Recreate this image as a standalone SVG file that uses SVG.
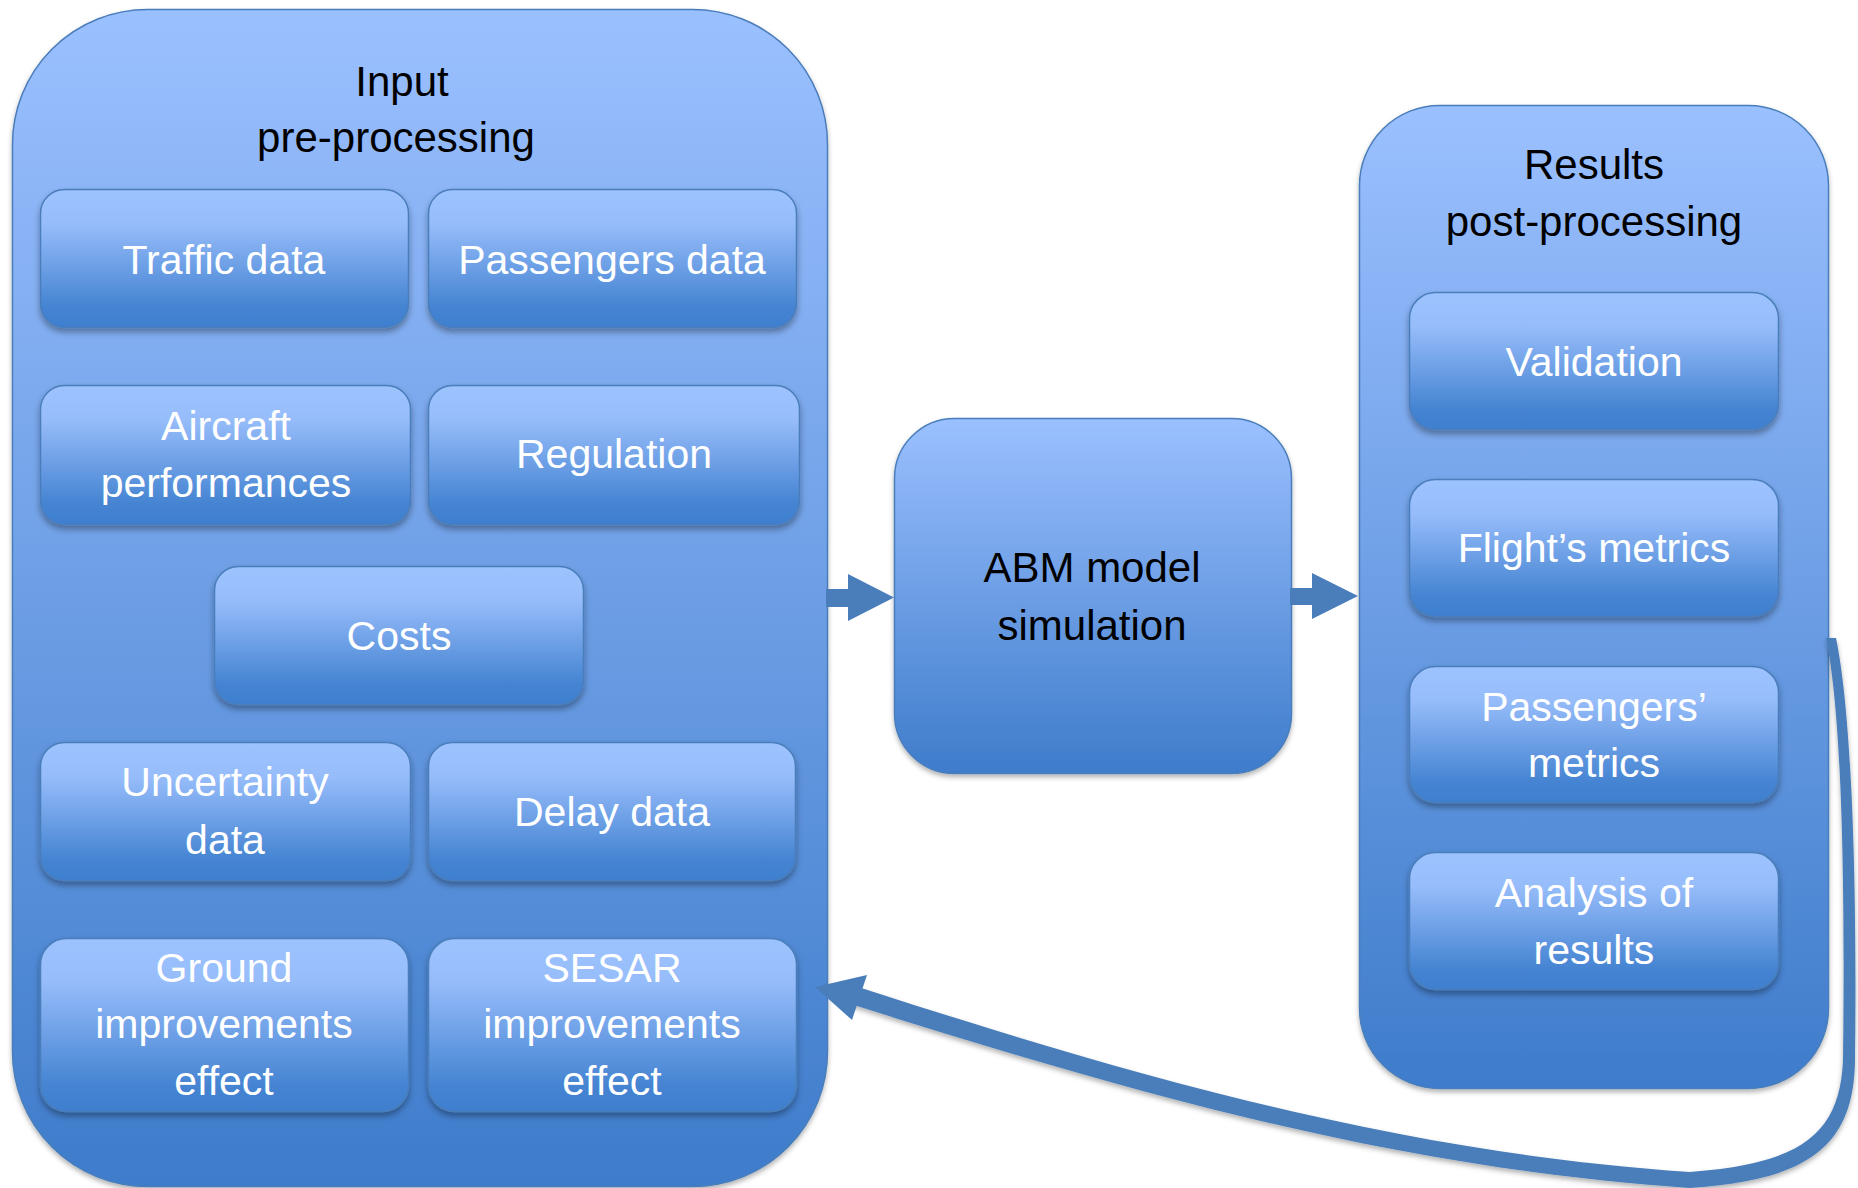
<svg xmlns="http://www.w3.org/2000/svg" width="1858" height="1188" viewBox="0 0 1858 1188">
<defs>
<linearGradient id="gBig" x1="0" y1="0" x2="0" y2="1">
<stop offset="0" stop-color="#9bc0ff"/>
<stop offset="1" stop-color="#3e7ccb"/>
</linearGradient>
<linearGradient id="gIn" x1="0" y1="0" x2="0" y2="1">
<stop offset="0" stop-color="#9dc3ff"/>
<stop offset="0.25" stop-color="#96bcfa"/>
<stop offset="0.85" stop-color="#4584d2"/>
<stop offset="1" stop-color="#3f7fcf"/>
</linearGradient>
<filter id="sh" x="-10%" y="-10%" width="120%" height="130%">
<feDropShadow dx="0" dy="4" stdDeviation="3" flood-color="#000" flood-opacity="0.35"/>
</filter>
<filter id="shA" x="-5%" y="-5%" width="110%" height="115%">
<feDropShadow dx="0" dy="3" stdDeviation="2.5" flood-color="#000" flood-opacity="0.3"/>
</filter>
</defs>
<style>
.big{fill:url(#gBig);stroke:#4a7ebb;stroke-width:1.5}
.in{fill:url(#gIn);stroke:#4a7ebb;stroke-width:1.5}
.title{font-family:"Liberation Sans",Arial,sans-serif;font-size:42px;fill:#000;text-anchor:middle}
.lbl{font-family:"Liberation Sans",Arial,sans-serif;font-size:41px;fill:#fff;text-anchor:middle}
.arr{fill:#4a7ebb}
</style>
<rect width="1858" height="1188" fill="#fff"/>

<g id="input-preprocessing">
<rect class="big" x="12.5" y="9.5" width="815" height="1177" rx="135" ry="135" filter="url(#shA)"/>
<text class="title" x="402" y="96">Input</text>
<text class="title" x="396" y="152">pre-processing</text>
</g>
<g id="traffic-data">
<rect class="in" x="40.5" y="189.5" width="368" height="138" rx="24" filter="url(#sh)"/>
<text class="lbl" x="224" y="274">Traffic data</text>
</g>
<g id="passengers-data">
<rect class="in" x="428.5" y="189.5" width="368" height="138" rx="24" filter="url(#sh)"/>
<text class="lbl" x="612" y="274">Passengers data</text>
</g>
<g id="aircraft-performances">
<rect class="in" x="40.5" y="385.5" width="370" height="139" rx="24" filter="url(#sh)"/>
<text class="lbl" x="226" y="440">Aircraft</text>
<text class="lbl" x="226" y="497">performances</text>
</g>
<g id="regulation">
<rect class="in" x="428.5" y="385.5" width="371" height="139" rx="24" filter="url(#sh)"/>
<text class="lbl" x="614" y="468">Regulation</text>
</g>
<g id="costs">
<rect class="in" x="214.5" y="566.5" width="369" height="138" rx="24" filter="url(#sh)"/>
<text class="lbl" x="399" y="650">Costs</text>
</g>
<g id="uncertainty-data">
<rect class="in" x="40.5" y="742.5" width="370" height="138" rx="24" filter="url(#sh)"/>
<text class="lbl" x="225" y="796">Uncertainty</text>
<text class="lbl" x="225" y="854">data</text>
</g>
<g id="delay-data">
<rect class="in" x="428.5" y="742.5" width="367" height="138" rx="24" filter="url(#sh)"/>
<text class="lbl" x="612" y="826">Delay data</text>
</g>
<g id="ground-improvements">
<rect class="in" x="40.5" y="938.5" width="368" height="173" rx="26" filter="url(#sh)"/>
<text class="lbl" x="224" y="982">Ground</text>
<text class="lbl" x="224" y="1038">improvements</text>
<text class="lbl" x="224" y="1095">effect</text>
</g>
<g id="sesar-improvements">
<rect class="in" x="428.5" y="938.5" width="368" height="173" rx="26" filter="url(#sh)"/>
<text class="lbl" x="612" y="982">SESAR</text>
<text class="lbl" x="612" y="1038">improvements</text>
<text class="lbl" x="612" y="1095">effect</text>
</g>

<g id="abm-model">
<rect class="big" x="894.5" y="418.5" width="397" height="355" rx="60" filter="url(#shA)"/>
<text class="title" x="1092" y="582">ABM model</text>
<text class="title" x="1092" y="640">simulation</text>
</g>

<g id="results-postprocessing">
<rect class="big" x="1359.5" y="105.5" width="469" height="983" rx="80" filter="url(#shA)"/>
<text class="title" x="1594" y="179">Results</text>
<text class="title" x="1594" y="236">post-processing</text>
</g>
<g id="validation">
<rect class="in" x="1409.5" y="292.5" width="369" height="137" rx="26" filter="url(#sh)"/>
<text class="lbl" x="1594" y="376">Validation</text>
</g>
<g id="flights-metrics">
<rect class="in" x="1409.5" y="479.5" width="369" height="137" rx="26" filter="url(#sh)"/>
<text class="lbl" x="1594" y="562">Flight’s metrics</text>
</g>
<g id="passengers-metrics">
<rect class="in" x="1409.5" y="666.5" width="369" height="136" rx="26" filter="url(#sh)"/>
<text class="lbl" x="1594" y="721">Passengers’</text>
<text class="lbl" x="1594" y="777">metrics</text>
</g>
<g id="analysis-of-results">
<rect class="in" x="1409.5" y="852.5" width="369" height="137" rx="26" filter="url(#sh)"/>
<text class="lbl" x="1594" y="907">Analysis of</text>
<text class="lbl" x="1594" y="964">results</text>
</g>

<g id="connectors">
<path class="arr" d="M826 589 H848 V574 L894 597.5 L848 621 V607 H826 Z"/>
<path class="arr" d="M1290 588 H1312 V573 L1358 596 L1312 619 V605 H1290 Z"/>
<path class="arr" filter="url(#shA)" d="M1836 638 C1853 720 1857 900 1855 1060 C1854 1146 1809 1180 1690 1188 C1399 1168 1148 1098 849 1003.5 L855 986 C1152 1082 1401 1152 1690 1172 C1801 1164 1840 1134 1843 1060 C1845 900 1843 720 1826 638 Z"/>
<path class="arr" d="M815 987 L867 975 L852 1020 Z"/>
</g>
</svg>
